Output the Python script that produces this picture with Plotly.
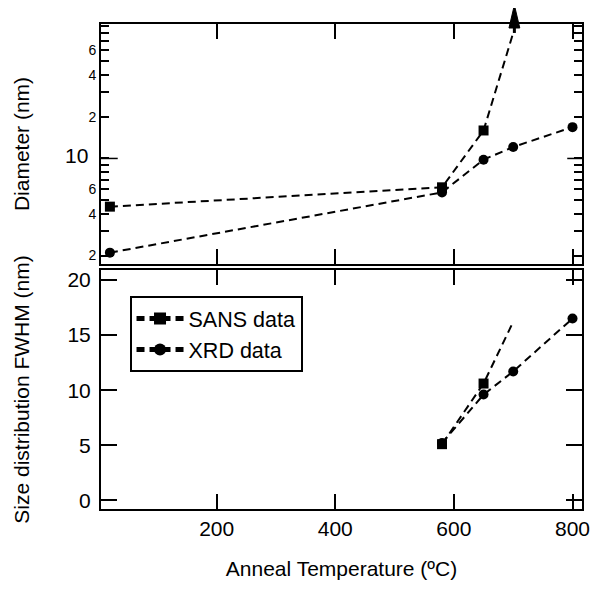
import plotly.graph_objects as go
import math

# ---- data ----
sans_T_diam = [20, 580, 650, 700]
sans_diam = [4.5, 6.2, 15.9, 80]           # last value: off-scale (line runs into arrow)
xrd_T_diam = [20, 580, 650, 700, 800]
xrd_diam = [2.1, 5.7, 9.8, 12.1, 16.8]

sans_T_fwhm = [580, 650, 700]
sans_fwhm = [5.1, 10.6, 16.2]
xrd_T_fwhm = [580, 650, 700, 800]
xrd_fwhm = [5.2, 9.6, 11.7, 16.5]

x_ticks = [200, 400, 600, 800]
diam_tickvals = [2, 3, 4, 5, 6, 7, 8, 9, 10, 20, 30, 40, 50, 60, 70, 80, 90]
diam_ticktext = ["2", "", "4", "", "6", "", "", "",
                 '<span style="font-size:21px">10</span>&nbsp;&nbsp;',
                 "2", "", "4", "", "6", "", "", ""]
fwhm_ticks = [0, 5, 10, 15, 20]

FONT = "Liberation Sans, Arial, Helvetica, sans-serif"
DASH = "8px,5px"

x_range = [5, 816]
ylog_range = [0.24, 1.9675]
ylin_range = [-0.78, 20.9]
PLOT_W = 489
TOP_H = 240

fig = go.Figure()

fig.add_trace(go.Scatter(
    x=sans_T_diam, y=sans_diam, mode="lines+markers", name="SANS data",
    line=dict(color="black", width=2, dash=DASH),
    marker=dict(color="black", symbol="square", size=[10, 10, 10, 0], opacity=1,
                line=dict(width=0)),
    showlegend=False, xaxis="x", yaxis="y"))
fig.add_trace(go.Scatter(
    x=xrd_T_diam, y=xrd_diam, mode="lines+markers", name="XRD data",
    line=dict(color="black", width=2, dash=DASH),
    marker=dict(color="black", symbol="circle", size=10, opacity=1, line=dict(width=0)),
    showlegend=False, xaxis="x", yaxis="y"))

fig.add_trace(go.Scatter(
    x=xrd_T_fwhm, y=xrd_fwhm, mode="lines+markers", name="XRD data",
    line=dict(color="black", width=2, dash=DASH),
    marker=dict(color="black", symbol="circle", size=10, opacity=1, line=dict(width=0)),
    legendrank=2, xaxis="x2", yaxis="y2", cliponaxis=False))
fig.add_trace(go.Scatter(
    x=sans_T_fwhm, y=sans_fwhm, mode="lines+markers", name="SANS data",
    line=dict(color="black", width=2, dash=DASH),
    marker=dict(color="black", symbol="square", size=[10, 10, 0], opacity=1,
                line=dict(width=0)),
    legendrank=1, xaxis="x2", yaxis="y2"))

axis_common = dict(showline=True, linecolor="black", linewidth=2, mirror="ticks",
                   ticks="inside", tickcolor="black", tickwidth=1.5,
                   showgrid=False, zeroline=False)

# the page body adds an 8px offset, so the figure is drawn 8px smaller
fig.update_layout(
    width=592, height=585,
    margin=dict(l=93, r=10, t=16, b=84),
    paper_bgcolor="white", plot_bgcolor="white",
    font=dict(family=FONT, size=21, color="black"),
    xaxis=dict(axis_common, domain=[0, 1], anchor="y", range=x_range, tickvals=x_ticks,
               ticklen=15, showticklabels=False, matches="x2"),
    yaxis=dict(axis_common, domain=[0.505, 1], anchor="x", type="log", range=ylog_range,
               tickvals=diam_tickvals, ticktext=diam_ticktext, ticklen=8,
               tickfont=dict(size=14, color="black"),
               title=dict(text="Diameter (nm)", font=dict(size=21), standoff=30)),
    xaxis2=dict(axis_common, domain=[0, 1], anchor="y2", range=x_range, tickvals=x_ticks,
                ticklen=15, tickfont=dict(size=21),
                title=dict(text="Anneal Temperature (ºC)", font=dict(size=21), standoff=22)),
    yaxis2=dict(axis_common, domain=[0, 0.4928], anchor="x2", range=ylin_range,
                tickvals=fwhm_ticks, ticklen=16, tickfont=dict(size=21), ticklabelstandoff=4,
                title=dict(text="Size distribution FWHM (nm)", font=dict(size=21), standoff=32)),
    legend=dict(x=0.0593, y=0.439, xanchor="left", yanchor="top",
                bgcolor="white", bordercolor="black", borderwidth=2,
                font=dict(size=21.5), itemsizing="constant", itemwidth=47, tracegroupgap=0),
)

# long major tick at 10 on the log axis (left and right)
y10 = (math.log10(10) - ylog_range[0]) / (ylog_range[1] - ylog_range[0])
fig.add_shape(type="line", xref="x domain", yref="y domain", x0=0, x1=17 / PLOT_W, y0=y10, y1=y10,
              line=dict(color="black", width=1.5))
fig.add_shape(type="line", xref="x domain", yref="y domain", x0=1 - 15 / PLOT_W, x1=1, y0=y10, y1=y10,
              line=dict(color="black", width=1.5))

# arrowhead marking the off-scale SANS diameter at the last temperature
fx = (sans_T_diam[-1] - x_range[0]) / (x_range[1] - x_range[0]) + 1.2 / PLOT_W
y_end = (math.log10(sans_diam[-1]) - ylog_range[0]) / (ylog_range[1] - ylog_range[0])
y_base = 1 - 4 / TOP_H
y_tip = 1 + 19 / TOP_H
hw = 5.5 / PLOT_W
fig.add_shape(type="line", xref="x domain", yref="y domain", x0=fx, x1=fx, y0=y_end, y1=y_base,
              line=dict(color="black", width=3))
fig.add_shape(type="path", xref="x domain", yref="y domain",
              path=f"M {fx},{y_tip} L {fx - hw},{y_base} L {fx + hw},{y_base} Z",
              fillcolor="black", line=dict(color="black", width=1))

fig.write_html("out.html")
